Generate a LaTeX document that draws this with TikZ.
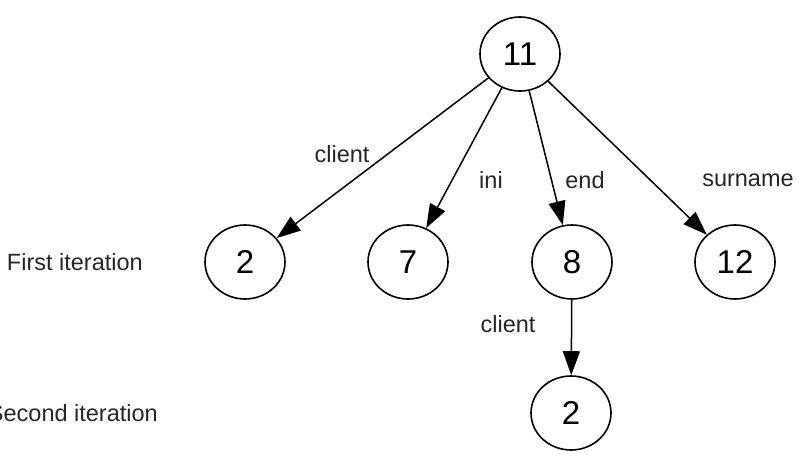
\documentclass[tikz,border=0pt]{standalone}
\usepackage{fontspec}
\setmainfont{Liberation Sans}
\usetikzlibrary{arrows.meta,shapes.geometric}
\begin{document}
\begin{tikzpicture}[x=1pt,y=-1pt,
  vert/.style={draw,ellipse,line width=1.6pt,minimum width=80pt,minimum height=74pt,inner sep=0pt,font=\fontsize{33}{36}\selectfont},
  lbl/.style={font=\fontsize{23.5}{27}\selectfont,text=black!85,inner sep=0pt},
  edge/.style={line width=1.5pt,-{Triangle[length=24pt,width=17pt]}}]
\useasboundingbox (0,0) rectangle (804,460);
\clip (0,0) rectangle (804,460);
\node[vert] (n11) at (520,54) {11};
\node[vert] (a2) at (245,262) {2};
\node[vert] (a7) at (408,262) {7};
\node[vert] (a8) at (572,262) {8};
\node[vert] (a12) at (735,262) {12};
\node[vert] (b2) at (571,413) {2};
\draw[edge] (n11) -- (a2);
\draw[edge] (n11) -- (a7);
\draw[edge] (n11) -- (a8);
\draw[edge] (n11) -- (a12);
\draw[edge] (a8) -- (b2);
\node[lbl] (l1) at (342,154) {client};
\node[lbl] (l2) at (491,180) {ini};
\node[lbl] (l3) at (585,180) {end};
\node[lbl] (l4) at (748,180) {surname};
\node[lbl] (l5) at (508,324) {client};
\node[lbl,anchor=east] (t1) at (143,262) {First iteration};
\node[lbl,anchor=east] (t2) at (158,413) {Second iteration};
\end{tikzpicture}
\end{document}
